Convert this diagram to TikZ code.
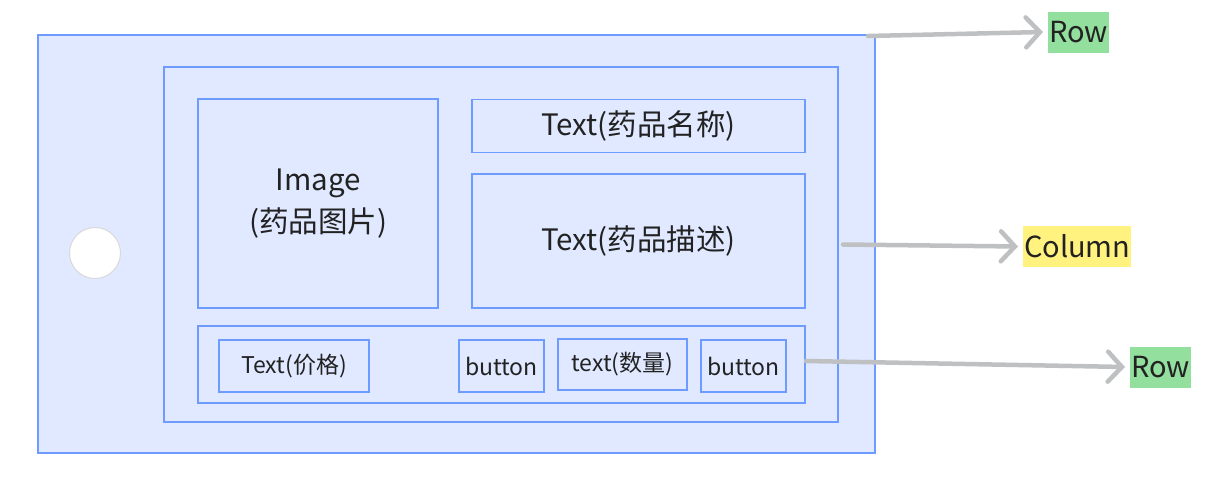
\documentclass[tikz,border=0pt]{standalone}
\usepackage{fontspec}
\setmainfont{Noto Sans CJK SC}
\usetikzlibrary{arrows.meta}
\definecolor{boxblue}{HTML}{6E9BFF}
\definecolor{boxfill}{HTML}{E0E9FF}
\definecolor{arrowgray}{HTML}{BEC0C2}
\definecolor{rowgreen}{HTML}{92DF9E}
\definecolor{colyellow}{HTML}{FFF27F}
\definecolor{inkgray}{HTML}{222222}

\begin{document}
\begin{tikzpicture}[x=1pt, y=-1pt]
  \tikzset{
    every node/.style={inner sep=0pt, outer sep=0pt, text=inkgray},
    widget/.style={draw=boxblue, fill=boxfill, line width=1.3pt, align=center},
    bigtext/.style={font=\fontsize{29.5}{42}\selectfont},
    smalltext/.style={font=\fontsize{23}{28}\selectfont},
    tag/.style={inner xsep=1pt, minimum height=41pt, font=\fontsize{29}{34}\selectfont},
    pointer/.style={draw=arrowgray, line width=4.5pt, line cap=round,
      -{Straight Barb[length=14pt, width=30pt, line cap=round]}}
  }
  \useasboundingbox (0,0) rectangle (1209,477);
  \node[widget, minimum width=837pt, minimum height=418pt] (outer) at (456.5,244) {};
  \node[circle, draw=black!15, fill=white, line width=1pt, minimum size=51pt] (dot) at (95,253) {};
  \node[widget, minimum width=674pt, minimum height=355pt] (col) at (501,244.5) {};
  \node[widget, bigtext, minimum width=240pt, minimum height=209pt] (img) at (318,203.5) {Image\\(药品图片)};
  \node[widget, bigtext, minimum width=333pt, minimum height=53pt] (name) at (638.5,126) {Text(药品名称)};
  \node[widget, bigtext, minimum width=333pt, minimum height=134pt] (desc) at (638.5,241) {Text(药品描述)};
  \node[widget, minimum width=607pt, minimum height=77pt] (row) at (501.5,364.5) {};
  \node[widget, smalltext, minimum width=150pt, minimum height=52pt] (price) at (294,366) {Text(价格)};
  \node[widget, smalltext, minimum width=85pt, minimum height=52pt] (minus) at (501.5,366) {button};
  \node[widget, smalltext, minimum width=129pt, minimum height=51pt] (qty) at (622.5,364.5) {text(数量)};
  \node[widget, smalltext, minimum width=85pt, minimum height=52pt] (plus) at (743.5,366) {button};

  \node[tag, fill=rowgreen, anchor=west] (outerrow) at (1048,32) {Row};
  \node[tag, fill=colyellow, anchor=west] (column) at (1023,246.5) {Column};
  \node[tag, fill=rowgreen, anchor=west] (innerrow) at (1130,367) {Row};

  \draw[pointer] ([xshift=-7pt, yshift=-1pt]outer.north east) -- ([xshift=-5pt]outerrow.west);
  \draw[pointer] ([xshift=5pt]col.east) -- ([xshift=-5pt]column.west);
  \draw[pointer] ([xshift=1pt, yshift=3.5pt]row.east) -- ([xshift=-5pt]innerrow.west);
\end{tikzpicture}
\end{document}
